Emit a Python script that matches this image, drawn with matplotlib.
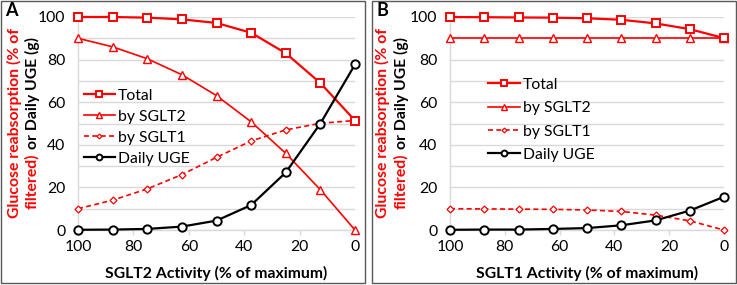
import matplotlib
matplotlib.use("Agg")
import matplotlib.pyplot as plt
import matplotlib.patches as patches
import numpy as np

plt.rcParams['font.family'] = ['Lato', 'DejaVu Sans']

# activity levels (% of maximum), axis runs 100 -> 0
activity = [100, 87.5, 75, 62.5, 50, 37.5, 25, 12.5, 0]

# panel A: SGLT2 activity reduced
a_total = [100, 100, 99.7, 98.9, 97.2, 92.6, 83.0, 69.0, 51.4]
a_sglt2 = [90, 86, 80.4, 72.9, 63.1, 50.8, 36.0, 18.9, 0]
a_sglt1 = [10, 14, 19.3, 26.0, 34.1, 41.8, 47.0, 50.1, 51.4]
a_uge = [0.1, 0.2, 0.5, 1.6, 4.4, 11.7, 27.0, 50.0, 77.7]

# panel B: SGLT1 activity reduced
b_total = [100, 99.9, 99.8, 99.7, 99.4, 98.7, 97.0, 94.3, 90.1]
b_sglt2 = [90, 90, 90, 90, 90, 90, 90, 90, 90]
b_sglt1 = [10, 9.9, 9.8, 9.7, 9.4, 8.7, 7.0, 4.3, 0]
b_uge = [0.1, 0.2, 0.2, 0.5, 0.9, 2.2, 4.5, 9.1, 15.6]

xlabels = ["SGLT2 Activity (% of maximum)", "SGLT1 Activity (% of maximum)"]
panel_names = ["A", "B"]

W, H = 737, 285
fig = plt.figure(figsize=(W / 100, H / 100), dpi=100)

RED = '#FF0000'
GRID = '#D9D9D9'
FS = 11.3


def fx(px):
    return px / W


def fy(py):
    return 1 - py / H


def draw_panel(left_px, right_px, total, sglt2, sglt1, uge, leg_anchor, leg_space):
    ax = fig.add_axes([fx(left_px), fy(230), fx(right_px - left_px), (230 - 17) / H])
    ax.plot(activity, total, color=RED, lw=1.6, marker='s', ms=6, mfc='white',
            mec=RED, mew=1.4, clip_on=False, zorder=5, label='Total')
    ax.plot(activity, sglt2, color=RED, lw=1.2, marker='^', ms=6, mfc='white',
            mec=RED, mew=1.0, clip_on=False, zorder=4, label='by SGLT2')
    ax.plot(activity, sglt1, color=RED, lw=1.2, ls=(0, (3, 2)), marker='D', ms=3.5,
            mfc='white', mec=RED, mew=0.9, clip_on=False, zorder=4, label='by SGLT1')
    ax.plot(activity, uge, color='black', lw=1.6, marker='o', ms=6, mfc='white',
            mec='black', mew=1.4, clip_on=False, zorder=6, label='Daily UGE')
    ax.set_xlim(100, 0)
    ax.set_ylim(0, 100)
    ax.set_xticks([100, 80, 60, 40, 20, 0])
    ax.set_yticks([0, 20, 40, 60, 80, 100])
    ax.set_yticks(np.arange(10, 100, 20), minor=True)
    ax.grid(axis='y', which='both', color=GRID, lw=1.0, zorder=0)
    ax.set_axisbelow(True)
    for s in ['top', 'right']:
        ax.spines[s].set_visible(False)
    for s in ['left', 'bottom']:
        ax.spines[s].set_color(GRID)
        ax.spines[s].set_linewidth(1.0)
    ax.tick_params(axis='x', direction='out', length=3.5, width=1, color=GRID,
                   pad=4, labelsize=FS)
    ax.tick_params(axis='y', which='both', length=0, pad=9, labelsize=FS)
    ax.legend(loc='upper left', bbox_to_anchor=leg_anchor, frameon=False,
              fontsize=FS, handlelength=2.0, handletextpad=0.2, markerscale=0.7,
              labelspacing=leg_space, borderpad=0, borderaxespad=0)
    return ax


axA = draw_panel(78, 355, a_total, a_sglt2, a_sglt1, a_uge, (0.02, 0.663), 0.45)
axB = draw_panel(450, 724, b_total, b_sglt2, b_sglt1, b_uge, (0.14, 0.715), 0.6)

# panel borders
for x0, x1 in [(0.5, 365), (372, 736)]:
    fig.add_artist(patches.Rectangle((fx(x0), fy(282.5)), fx(x1 - x0), (282.5 - 0.5) / H,
                                     transform=fig.transFigure, fill=False,
                                     edgecolor='#595959', lw=1.0))

fig.canvas.draw()
rend = fig.canvas.get_renderer()

for ax, name, xl, x0, lx1, lx2 in [(axA, panel_names[0], xlabels[0], 0, 14, 32),
                                  (axB, panel_names[1], xlabels[1], 372, 382, 401)]:
    fig.text(fx(x0 + 5), fy(11), name, fontsize=13, fontweight='bold',
             ha='left', va='center')
    pos = ax.get_position()
    fig.text((pos.x0 + pos.x1) / 2, fy(273), xl, fontsize=FS, fontweight='bold',
             ha='center', va='center')
    # two-colour y label
    ycen = 123
    fig.text(fx(lx1), fy(ycen), 'Glucose reabsorption (% of', rotation=90, color=RED,
             fontsize=FS, fontweight='bold', ha='center', va='center')
    p1 = fig.text(0, 0, 'filtered)', rotation=90, color=RED, fontsize=FS,
                  fontweight='bold', ha='center', va='bottom')
    p2 = fig.text(0, 0, 'or Daily UGE (g)', rotation=90, color='black', fontsize=FS,
                  fontweight='bold', ha='center', va='bottom')
    h1 = p1.get_window_extent(rend).height
    h2 = p2.get_window_extent(rend).height
    gap = 4
    total_h = h1 + gap + h2
    bottom = (H - ycen) - total_h / 2
    p1.set_position((fx(lx2), bottom / H))
    p2.set_position((fx(lx2), (bottom + h1 + gap) / H))

fig.savefig('out.png', dpi=100)
